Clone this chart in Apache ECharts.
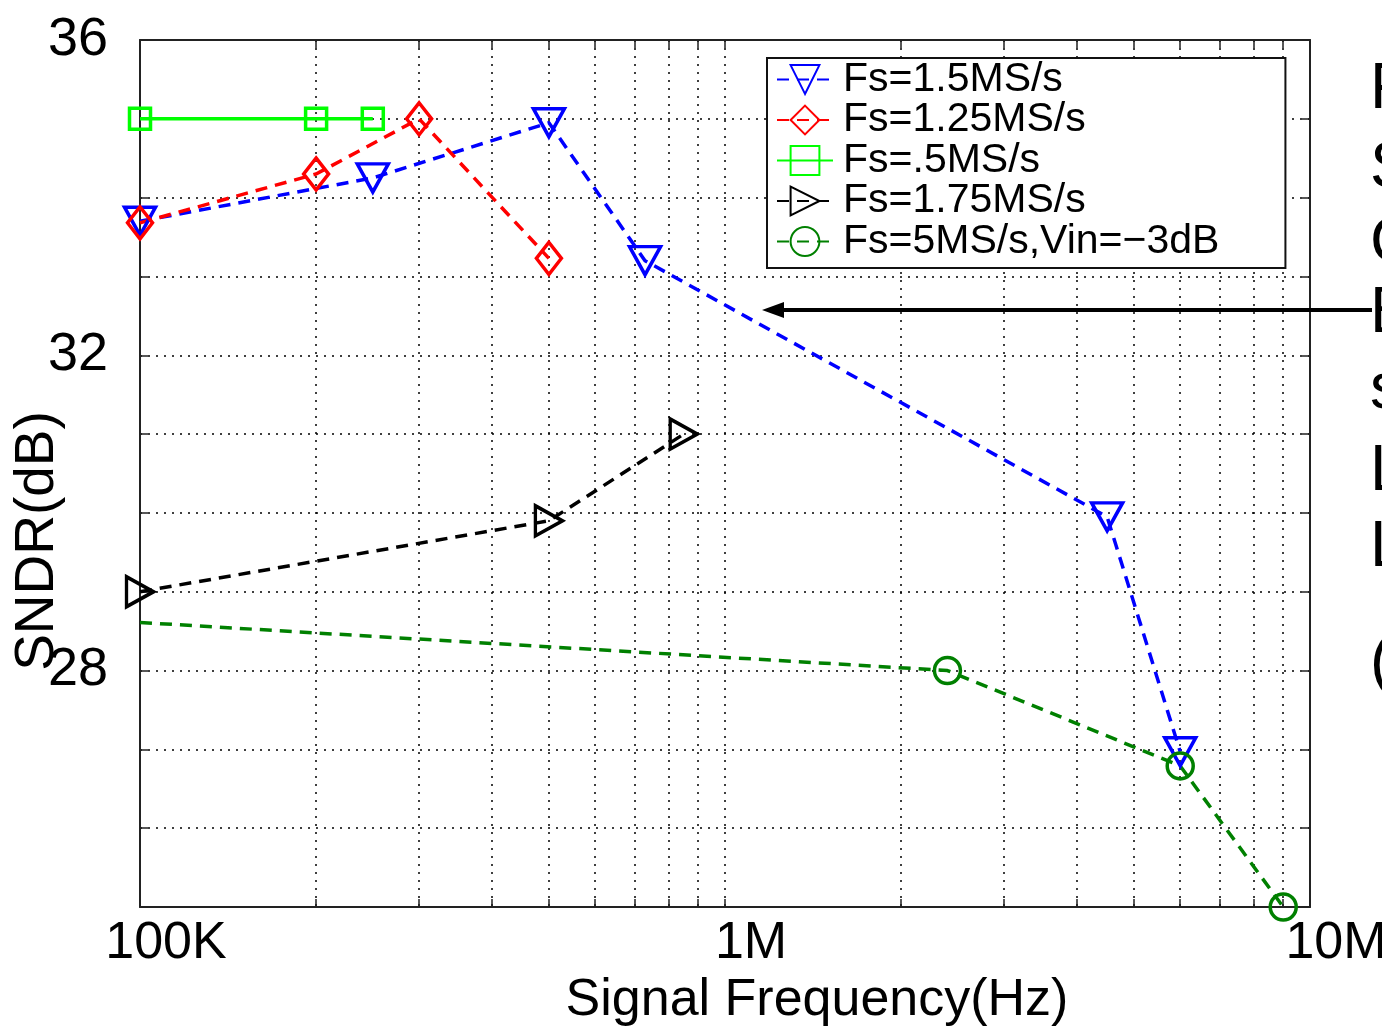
<!DOCTYPE html>
<html><head><meta charset="utf-8">
<script src="https://cdn.jsdelivr.net/npm/echarts@6/dist/echarts.min.js"></script>
<style>html,body{margin:0;padding:0;background:#fff}#c{width:1382px;height:1028px}</style>
</head><body><div id="c"></div><script>
// ---- data ----
const seriesNames = ['Fs=1.5MS/s', 'Fs=1.25MS/s', 'Fs=.5MS/s', 'Fs=1.75MS/s', 'Fs=5MS/s,Vin=\u22123dB'];
const fs15  = [[1e5, 33.70], [2.5e5, 34.25], [5e5, 34.95], [7.3e5, 33.20], [4.5e6, 29.95], [6e6, 26.97]];
const fs125 = [[1e5, 33.68], [2e5, 34.30], [3e5, 35.00], [5e5, 33.23]];
const fs05  = [[1e5, 35.00], [2e5, 35.00], [2.5e5, 35.00]];
const fs175 = [[1e5, 29.00], [5e5, 29.90], [8.5e5, 31.00]];
const fs5   = [[1e5, 28.61], [2.4e6, 28.00], [6e6, 26.79], [9e6, 25.00]];
const xTickValues = [1e5, 2e5, 3e5, 4e5, 5e5, 6e5, 7e5, 8e5, 9e5, 1e6, 2e6, 3e6, 4e6, 5e6, 6e6, 7e6, 8e6, 9e6, 1e7];
const xLabelValues = [1e5, 1e6, 1e7];
const xLabelText = { 100000: '100K', 1000000: '1M', 10000000: '10M' };
const yLabelValues = [28, 32, 36];
const sideText = ['F', 'S', 'C', 'B', 's', 'L', 'L', '('];

const chart = echarts.init(document.getElementById('c'), null, { renderer: 'canvas' });
const gridLine = { show: true, lineStyle: { color: '#000', type: [2, 6], width: 1.5 } };
const frameLine = { show: true, onZero: false, lineStyle: { color: '#222', width: 2 } };
const FONT = 'Liberation Sans';

function lineSeries(name, data, color, opts) {
  return Object.assign({
    name, type: 'line', data, xAxisIndex: 0, yAxisIndex: 0,
    lineStyle: { color, width: 3.5, type: [12, 8] },
    itemStyle: { color: 'transparent', borderColor: color, borderWidth: 3.5 },
    emphasis: { disabled: true }, z: 3
  }, opts);
}

const option = {
  animation: false,
  backgroundColor: '#fff',
  grid: { left: 140, top: 40, right: 72, bottom: 121, containLabel: false, outerBoundsMode: 'none' },
  xAxis: [{
    type: 'log', logBase: 10, min: 1e5, max: 1e7, position: 'bottom',
    axisLine: frameLine,
    axisTick: { show: true, inside: true, length: 8, customValues: xTickValues, lineStyle: { color: '#222', width: 1.5 } },
    axisLabel: { customValues: xLabelValues, formatter: v => xLabelText[Math.round(v)] || '',
      fontFamily: FONT, fontSize: 52, color: '#000', margin: 11, padding: [0, 0, 0, 52] },
    splitLine: gridLine,
    name: 'Signal Frequency(Hz)', nameLocation: 'middle', nameGap: 52,
    nameTextStyle: { fontFamily: FONT, fontSize: 52, color: '#000', verticalAlign: 'top', padding: [0, 0, 0, 184] }
  }, {
    type: 'log', logBase: 10, min: 1e5, max: 1e7, position: 'top',
    axisLine: frameLine,
    axisTick: { show: true, inside: true, length: 8, customValues: xTickValues, lineStyle: { color: '#222', width: 1.5 } },
    axisLabel: { show: false }, splitLine: { show: false }
  }],
  yAxis: [{
    type: 'value', min: 25, max: 36, interval: 1, position: 'left',
    axisLine: frameLine,
    axisTick: { show: true, inside: true, length: 8, lineStyle: { color: '#222', width: 1.5 } },
    axisLabel: { formatter: v => yLabelValues.includes(v) ? String(v) : '', fontFamily: FONT, fontSize: 54,
      color: '#000', margin: 32, verticalAlign: 'middle', lineHeight: 54, padding: [0, 0, 10, 0] },
    splitLine: gridLine
  }, {
    type: 'value', min: 25, max: 36, interval: 1, position: 'right',
    axisLine: frameLine,
    axisTick: { show: true, inside: true, length: 8, lineStyle: { color: '#222', width: 1.5 } },
    axisLabel: { show: false }, splitLine: { show: false }
  }],
  legend: {
    orient: 'vertical', left: 767, top: 58, itemWidth: 56, itemHeight: 36, itemGap: -0.5,
    padding: [1, 66, 6, 9], borderColor: '#111', borderWidth: 2, backgroundColor: '#fff',
    textStyle: { fontFamily: FONT, fontSize: 41, color: '#000', lineHeight: 38, padding: [0, 0, 0, 5] },
    data: seriesNames, selectedMode: false
  },
  series: [
    lineSeries(seriesNames[0], fs15, '#0000FF', { symbol: 'triangle', symbolRotate: 180, symbolSize: [31, 28] }),
    lineSeries(seriesNames[1], fs125, '#FF0000', { symbol: 'diamond', symbolSize: [25, 32] }),
    lineSeries(seriesNames[2], fs05, '#00FF00', { symbol: 'rect', symbolSize: [21, 21], lineStyle: { color: '#00FF00', width: 3.5, type: 'solid' } }),
    lineSeries(seriesNames[3], fs175, '#000000', { symbol: 'triangle', symbolRotate: -90, symbolSize: [30, 27] }),
    lineSeries(seriesNames[4], fs5.map((p, i) => i === 0 ? { value: p, symbol: 'none' } : p), '#008000', { symbol: 'circle', symbolSize: 26 })
  ],
  graphic: [
    { type: 'text', x: 38, y: 541, rotation: Math.PI / 2,
      style: { text: 'SNDR(dB)', fontFamily: FONT, fontSize: 55, fill: '#000', align: 'center', verticalAlign: 'middle' }, z: 10 },
    { type: 'line', shape: { x1: 778, y1: 310, x2: 1372, y2: 310 }, style: { stroke: '#000', lineWidth: 4 }, z: 10 },
    { type: 'polygon', shape: { points: [[762, 310], [784, 302], [784, 318]] }, style: { fill: '#000' }, z: 10 }
  ].concat(sideText.map((t, i) => ({
    type: 'text', left: 1370, top: [58, 137, 212, 282, 358, 440, 516, 632][i],
    style: { text: t, fontFamily: FONT, fontSize: 64, fill: '#000' }, z: 10
  })))
};
chart.setOption(option);
</script></body></html>
